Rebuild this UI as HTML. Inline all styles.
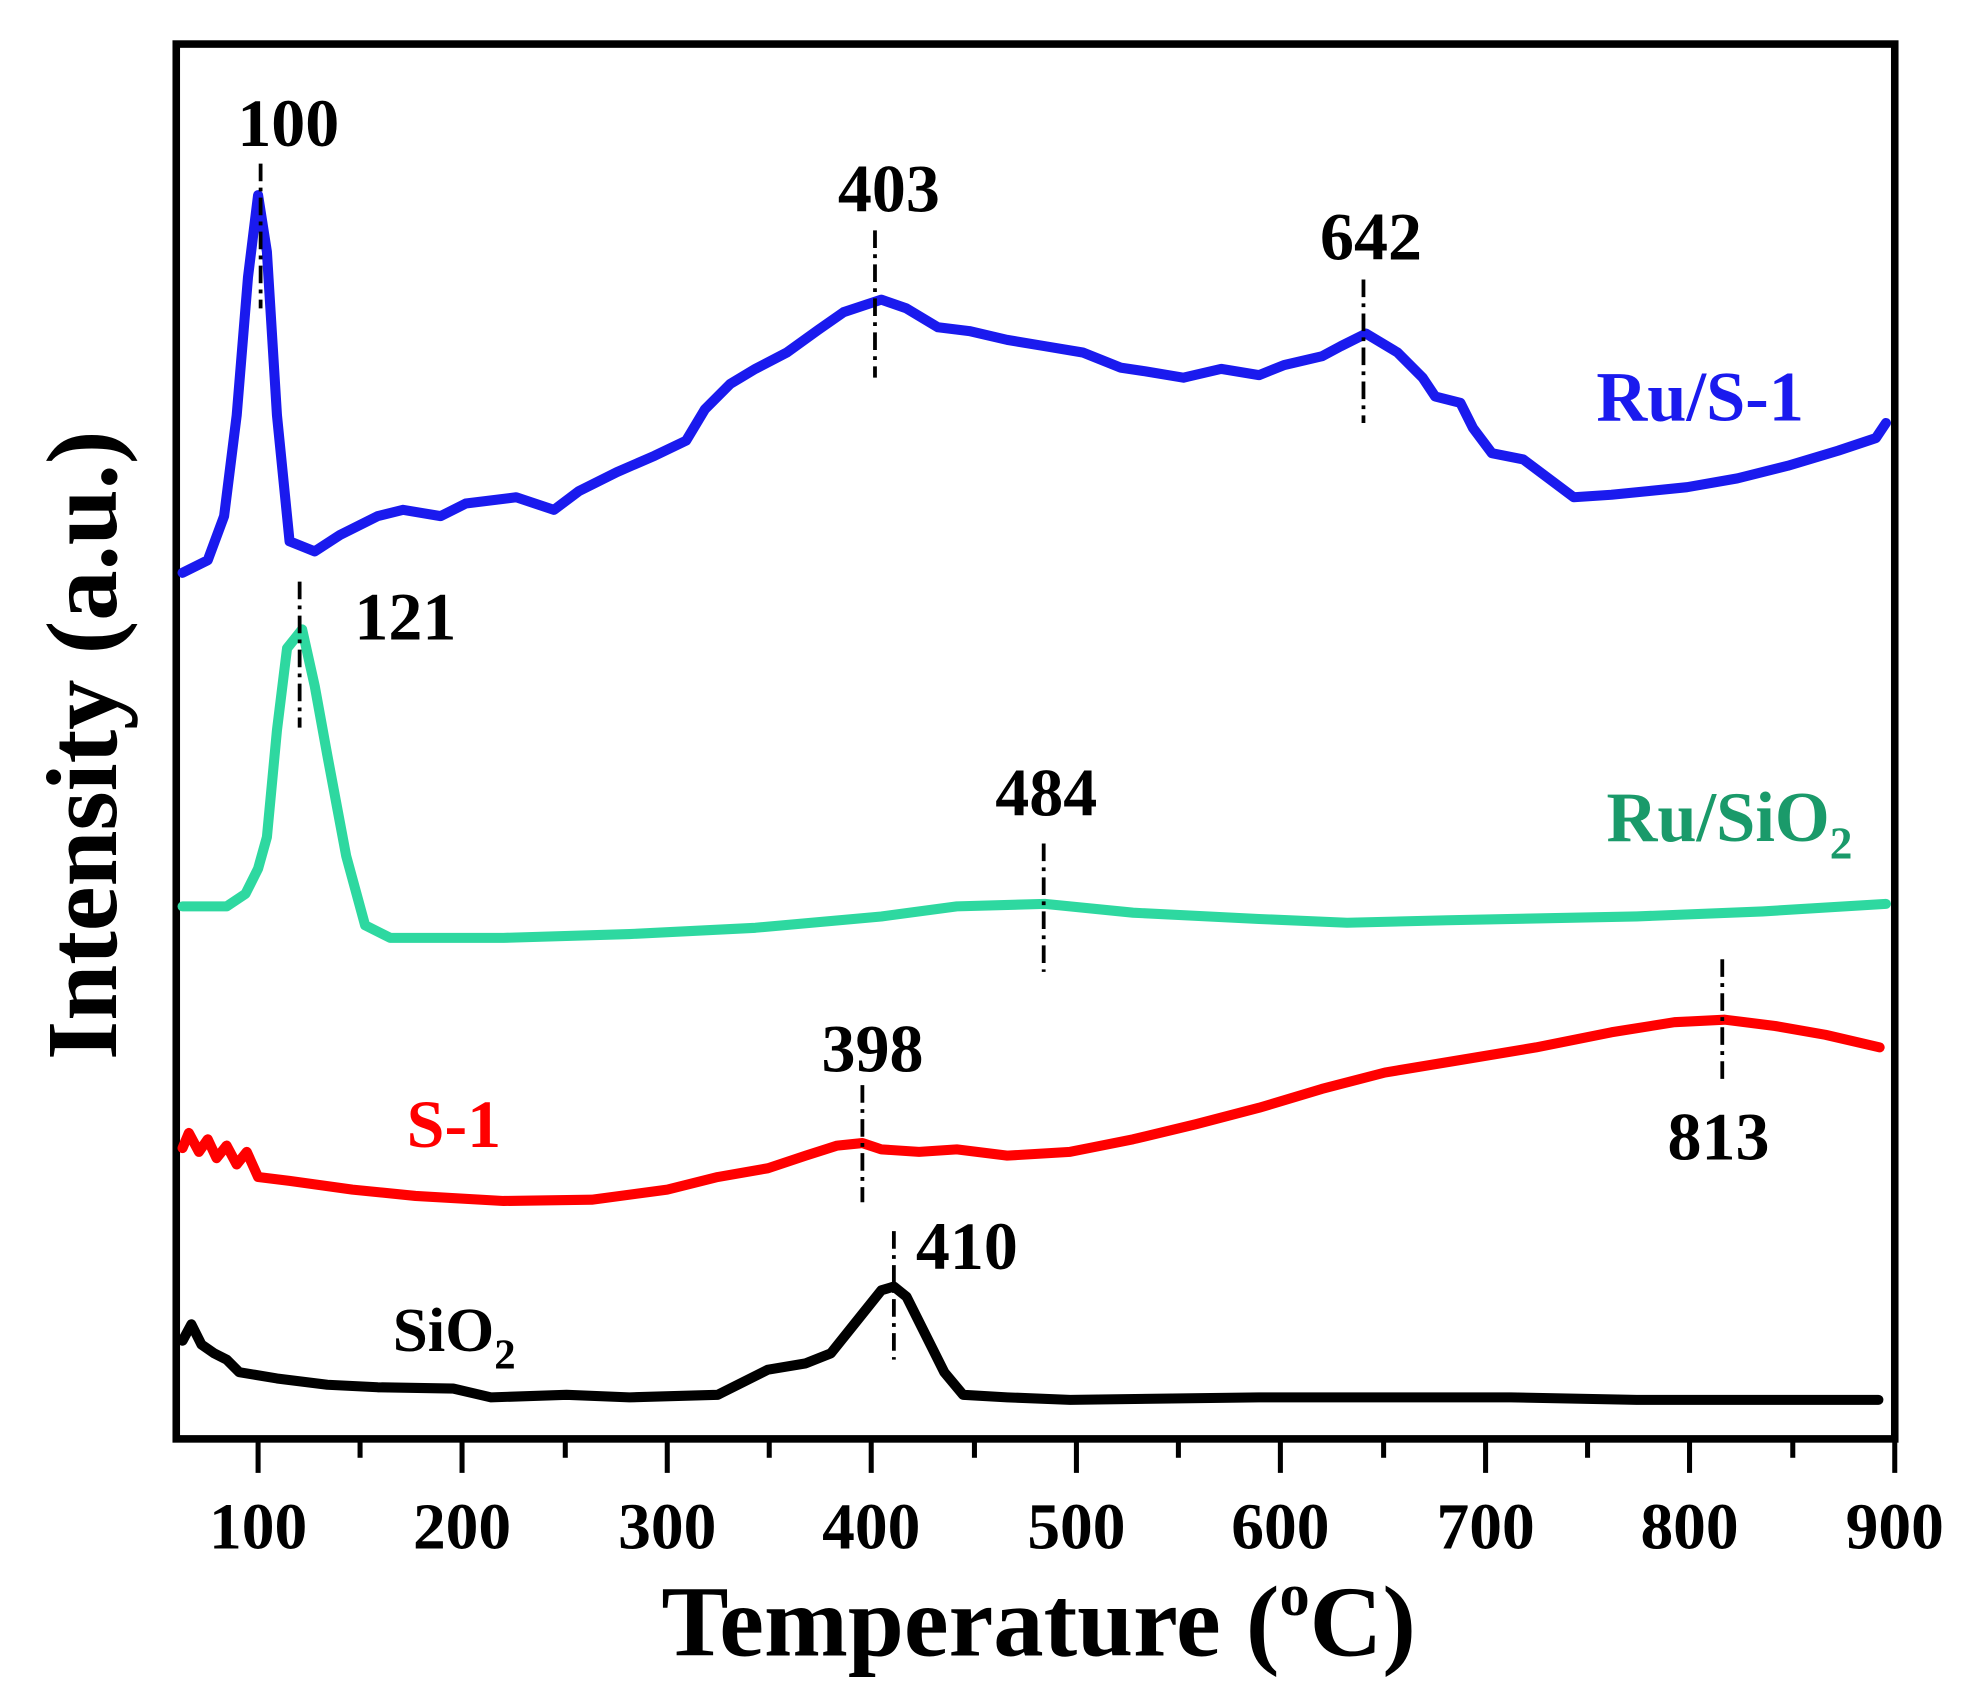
<!DOCTYPE html>
<html><head><meta charset="utf-8"><style>html,body{margin:0;padding:0;background:#fff}svg{display:block}</style></head>
<body>
<svg width="1964" height="1702" viewBox="0 0 1560 1352" preserveAspectRatio="none" xmlns="http://www.w3.org/2000/svg" font-family="Liberation Serif, serif" font-weight="bold">
<rect x="140" y="35" width="1365" height="1108" fill="none" stroke="#000" stroke-width="6"/>
<g stroke="#000" stroke-width="4">
<line x1="205" y1="1143" x2="205" y2="1170"/><line x1="286" y1="1143" x2="286" y2="1158"/>
<line x1="367" y1="1143" x2="367" y2="1170"/><line x1="449" y1="1143" x2="449" y2="1158"/>
<line x1="530" y1="1143" x2="530" y2="1170"/><line x1="611" y1="1143" x2="611" y2="1158"/>
<line x1="692" y1="1143" x2="692" y2="1170"/><line x1="774" y1="1143" x2="774" y2="1158"/>
<line x1="855" y1="1143" x2="855" y2="1170"/><line x1="936" y1="1143" x2="936" y2="1158"/>
<line x1="1017" y1="1143" x2="1017" y2="1170"/><line x1="1099" y1="1143" x2="1099" y2="1158"/>
<line x1="1180" y1="1143" x2="1180" y2="1170"/><line x1="1261" y1="1143" x2="1261" y2="1158"/>
<line x1="1342" y1="1143" x2="1342" y2="1170"/><line x1="1424" y1="1143" x2="1424" y2="1158"/>
<line x1="1505" y1="1143" x2="1505" y2="1170"/>
</g>
<g font-size="52" text-anchor="middle">
<text x="205" y="1230">100</text><text x="367" y="1230">200</text><text x="530" y="1230">300</text>
<text x="692" y="1230">400</text><text x="855" y="1230">500</text><text x="1017" y="1230">600</text>
<text x="1180" y="1230">700</text><text x="1342" y="1230">800</text><text x="1505" y="1230">900</text>
</g>
<text x="825" y="1315" font-size="80" text-anchor="middle">Temperature (<tspan font-size="48" dy="-32">o</tspan><tspan dy="32">C)</tspan></text>
<text transform="translate(92,592) rotate(-90)" font-size="80" text-anchor="middle">Intensity (a.u.)</text>

<g fill="none" stroke-width="8" stroke-linejoin="round" stroke-linecap="round">
<polyline stroke="#1a1aee" points="145,455 165,445 178,410 188,330 197,220 205,155 212,200 220,330 230,430 250,438 270,425 300,410 320,405 350,410 370,400 410,395 440,405 460,390 490,375 520,362 545,350 560,325 580,305 600,293 625,280 650,262 670,248 700,238 720,245 745,260 770,263 800,270 830,275 860,280 890,292 910,295 940,300 970,293 1000,298 1020,290 1050,283 1065,275 1085,265 1110,280 1130,300 1140,315 1160,320 1170,340 1185,360 1210,365 1230,380 1250,395 1280,393 1310,390 1340,387 1380,380 1420,370 1460,358 1490,348 1498,336"/>
<polyline stroke="#2ed8a0" points="145,720 180,720 195,710 205,690 212,665 220,580 228,515 240,500 250,545 260,600 275,680 290,735 310,745 400,745 500,742 600,737 700,728 760,720 830,718 900,725 1000,730 1070,733 1150,731 1300,728 1400,724 1498,718"/>
<polyline stroke="#ff0000" points="145,912 150,900 158,915 165,905 172,920 180,910 188,925 196,915 205,935 230,938 280,945 330,950 400,954 470,953 530,945 570,935 610,928 640,918 665,910 685,908 700,913 730,915 760,913 800,918 850,915 900,905 950,893 1000,880 1050,865 1100,852 1160,842 1220,832 1280,820 1330,812 1370,810 1410,815 1450,822 1493,832"/>
<polyline stroke="#000" points="145,1065 152,1052 160,1068 170,1075 180,1080 190,1090 220,1095 260,1100 300,1102 360,1103 390,1110 450,1108 500,1110 570,1108 590,1098 610,1088 640,1083 660,1075 680,1050 700,1025 710,1022 720,1030 735,1060 750,1090 765,1108 800,1110 850,1112 1000,1110 1200,1110 1300,1112 1492,1112"/>
</g>
<g stroke="#000" stroke-width="3" stroke-dasharray="14,5,3,5">
<line x1="207" y1="130" x2="207" y2="245"/><line x1="238" y1="462" x2="238" y2="578"/>
<line x1="695" y1="183" x2="695" y2="300"/><line x1="1083" y1="222" x2="1083" y2="336"/>
<line x1="829" y1="670" x2="829" y2="772"/><line x1="685" y1="862" x2="685" y2="955"/>
<line x1="1368" y1="762" x2="1368" y2="862"/><line x1="710" y1="978" x2="710" y2="1080"/>
</g>
<g font-size="54" text-anchor="middle">
<text x="229" y="116">100</text><text x="706" y="168">403</text><text x="1089" y="206">642</text>
<text x="322" y="508">121</text><text x="831" y="648">484</text><text x="693" y="851">398</text>
<text x="1365" y="921">813</text><text x="768" y="1008">410</text>
</g>
<text x="1268" y="334" font-size="56" fill="#1a1aee">Ru/S-1</text>
<text x="1276" y="668" font-size="56" fill="#1a9a6a">Ru/SiO<tspan font-size="36" dy="14">2</tspan></text>
<text x="323" y="911" font-size="54" fill="#ff0000">S-1</text>
<text x="312" y="1073" font-size="50" fill="#000">SiO<tspan font-size="34" dy="14">2</tspan></text>
</svg>
</body></html>
